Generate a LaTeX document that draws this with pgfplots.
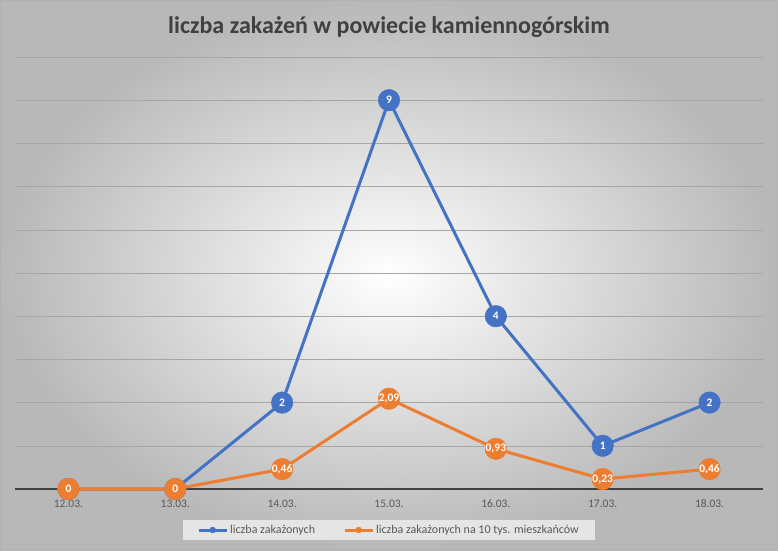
\documentclass[border=0pt]{standalone}
\usepackage{pgfplots}
\pgfplotsset{compat=1.18}
\usepackage{fontspec}
\setmainfont{Carlito}
\definecolor{cblue}{HTML}{4472C4}
\definecolor{corange}{HTML}{ED7D31}
\definecolor{txtgray}{HTML}{595959}
\begin{document}
\begin{tikzpicture}
\shade[inner color=white, outer color=black!28] (0,0) rectangle (778pt,550pt);
\draw[black!30] (0.5pt,0.5pt) rectangle (777.5pt,549.5pt);
\node[font=\fontsize{24}{28}\selectfont\bfseries, text=black!75] at (389pt,523pt) {liczba zakażeń w powiecie kamiennogórskim};
\begin{axis}[
  at={(15pt,61pt)}, anchor=south west,
  scale only axis, width=748pt, height=432pt,
  xmin=-0.5, xmax=6.5, ymin=0, ymax=10,
  xtick={0,...,6},
  xticklabels={12.03.,13.03.,14.03.,15.03.,16.03.,17.03.,18.03.},
  ytick={1,...,10}, yticklabels={},
  extra y ticks={0}, extra y tick labels={},
  extra y tick style={grid style={black!75, line width=1.6pt}},
  ymajorgrids, grid style={black!35, line width=0.6pt},
  axis line style={draw=none}, major tick length=0pt,
  tick label style={font=\fontsize{11.5}{13}\selectfont, text=txtgray},
  xticklabel style={yshift=-7pt},
  clip=false,
  legend columns=2,
  legend style={at={(0.5,-0.0949)}, anchor=center, fill=black!10, draw=none,
    font=\fontsize{12}{14}\selectfont, text=txtgray, inner xsep=14pt, inner ysep=3pt,
    /tikz/every even column/.append style={column sep=26pt}},
  legend image code/.code={\draw[#1, mark size=3pt, mark repeat=2, mark phase=2] plot coordinates {(0pt,0pt)(14pt,0pt)(28pt,0pt)};},
  nodes near coords, point meta=explicit symbolic,
  every node near coord/.append style={font=\bfseries\fontsize{11.5}{12}\selectfont, text=white, anchor=center, inner sep=0pt},
]
\addplot[cblue, line width=3pt, mark=*, mark size=10.8pt, mark options={fill=cblue, draw=cblue, line width=0.4pt}]
 table[meta=lab] {
x y lab
0 0 0
1 0 0
2 2 2
3 9 9
4 4 4
5 1 1
6 2 2
};
\addlegendentry{liczba zakażonych}
\addplot[corange, line width=3pt, mark=*, mark size=10.8pt, mark options={fill=corange, draw=corange, line width=0.4pt}]
 table[meta=lab] {
x y lab
0 0 0
1 0 0
2 0.46 0,46
3 2.09 2,09
4 0.93 0,93
5 0.23 0,23
6 0.46 0,46
};
\addlegendentry{liczba zakażonych na 10 tys. mieszkańców}
\end{axis}
\end{tikzpicture}
\end{document}
